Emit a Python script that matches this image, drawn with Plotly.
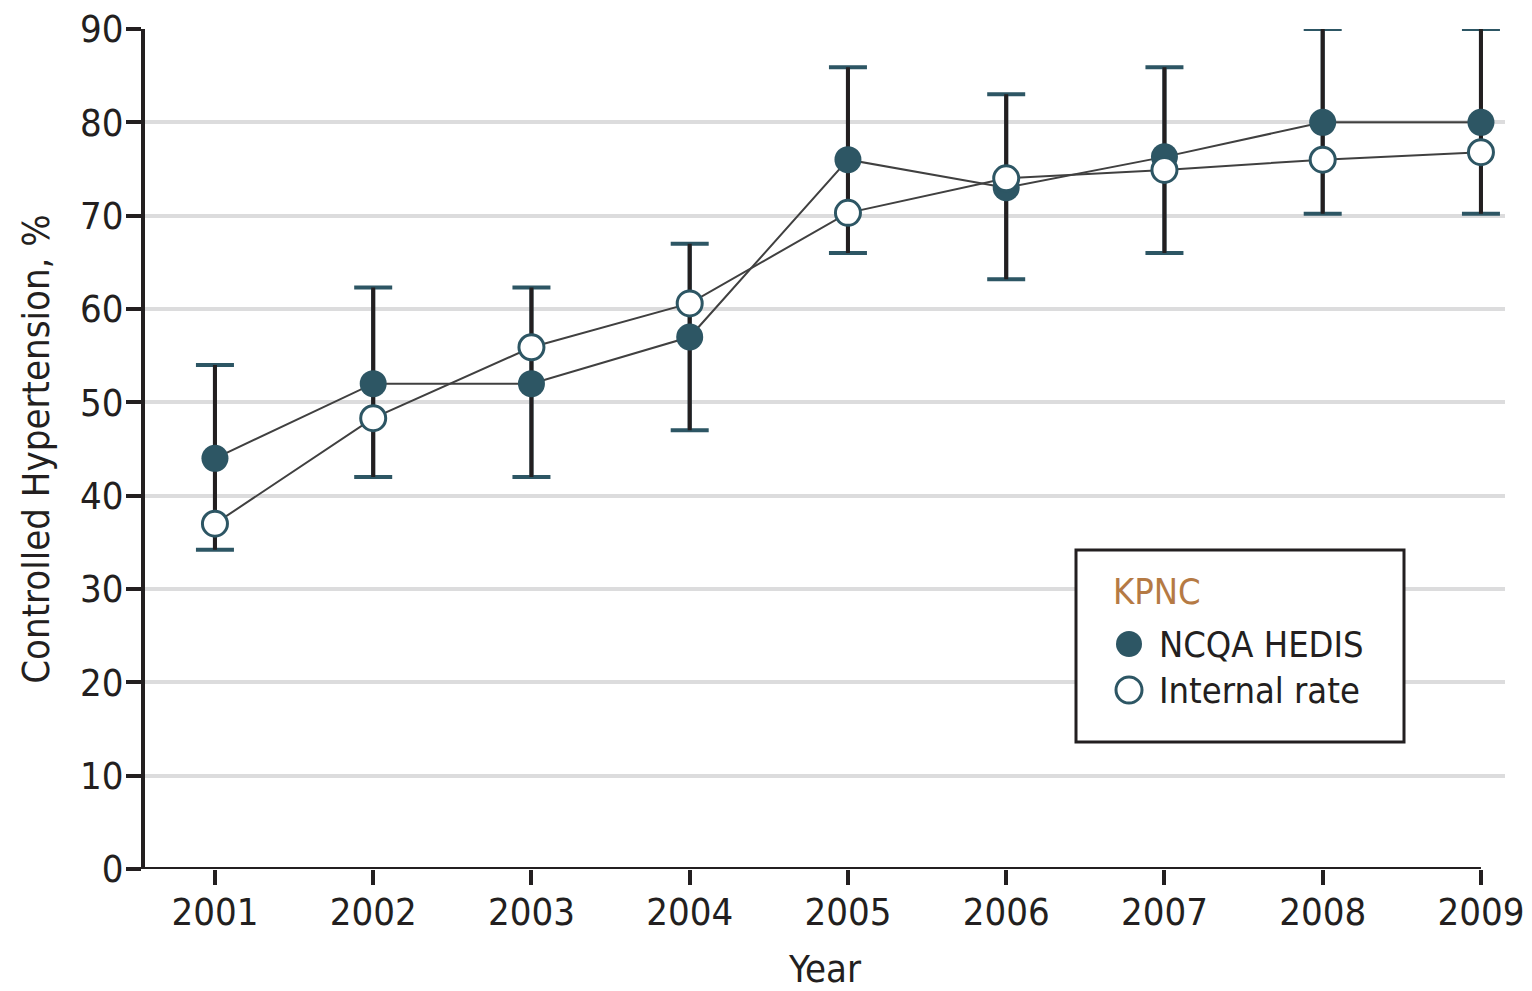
import plotly.graph_objects as go

years = [2001, 2002, 2003, 2004, 2005, 2006, 2007, 2008, 2009]
ncqa_hedis = [44, 52, 52, 57, 76, 73, 76.3, 80, 80]
internal_rate = [37, 48.3, 55.9, 60.6, 70.3, 74.0, 74.9, 76, 76.8]
ci_upper = [54, 62.3, 62.3, 67, 85.9, 83, 85.9, 90, 90]
ci_lower = [34.2, 42, 42, 47, 66, 63.2, 66, 70.2, 70.2]

y_ticks = [0, 10, 20, 30, 40, 50, 60, 70, 80, 90]
series_names = ["NCQA HEDIS", "Internal rate"]
legend_title = "KPNC"

TEAL = "#2d5664"
DARK = "#231f20"
LINE = "#404040"
GRID = "#dcdcdd"
FONT = "Liberation Sans Narrow, DejaVu Sans Condensed, Liberation Sans, sans-serif"

X_RANGE = [2000.558, 2009.152]

err_plus = [u - v for u, v in zip(ci_upper, ncqa_hedis)]
err_minus = [v - l for v, l in zip(ncqa_hedis, ci_lower)]

fig = go.Figure()

# error bars with teal caps
fig.add_trace(go.Scatter(
    x=years, y=ncqa_hedis, mode="markers",
    marker=dict(size=1, color="rgba(0,0,0,0)"),
    error_y=dict(type="data", symmetric=False, array=err_plus, arrayminus=err_minus,
                 color=TEAL, thickness=4, width=19),
    showlegend=False, hoverinfo="skip"))
# dark stems
fig.add_trace(go.Scatter(
    x=years, y=ncqa_hedis, mode="markers",
    marker=dict(size=1, color="rgba(0,0,0,0)"),
    error_y=dict(type="data", symmetric=False, array=err_plus, arrayminus=err_minus,
                 color=DARK, thickness=4, width=0),
    showlegend=False, hoverinfo="skip"))

fig.add_trace(go.Scatter(
    x=years, y=ncqa_hedis, mode="lines+markers", name=series_names[0],
    line=dict(color=LINE, width=2),
    marker=dict(symbol="circle", size=27, color=TEAL, line=dict(color=TEAL, width=0)),
    showlegend=False))
fig.add_trace(go.Scatter(
    x=years, y=internal_rate, mode="lines+markers", name=series_names[1],
    line=dict(color=LINE, width=2),
    marker=dict(symbol="circle", size=25, color="white", line=dict(color=TEAL, width=3)),
    showlegend=False))

# x-axis baseline ending at the last year
fig.add_shape(type="line", xref="x", yref="y", x0=X_RANGE[0], x1=years[-1], y0=0, y1=0,
              line=dict(color=DARK, width=4), layer="above")

# ---- legend box (drawn manually to get large symbols) ----
px0, pw, py0, ph = 145, 1360, 869, 840
def xp(px):
    return (px - px0) / pw
def yp(py):
    return (py0 - py) / ph

fig.add_shape(type="rect", xref="paper", yref="paper",
              x0=xp(1076), x1=xp(1404), y0=yp(742), y1=yp(550),
              line=dict(color=DARK, width=3), fillcolor="white", layer="above")
fig.add_annotation(xref="paper", yref="paper", x=xp(1111), y=yp(591), text=legend_title,
                   showarrow=False, xanchor="left", yanchor="middle",
                   font=dict(family=FONT, size=36, color="#b57a44"))
for i, (name, ypx) in enumerate(zip(series_names, [644, 690])):
    fig.add_shape(type="circle", xref="paper", yref="paper",
                  xsizemode="pixel", ysizemode="pixel",
                  xanchor=xp(1129), yanchor=yp(ypx),
                  x0=-13, x1=13, y0=-13, y1=13,
                  fillcolor=TEAL if i == 0 else "white",
                  line=dict(color=TEAL, width=0 if i == 0 else 3), layer="above")
    fig.add_annotation(xref="paper", yref="paper", x=xp(1157), y=yp(ypx), text=name,
                       showarrow=False, xanchor="left", yanchor="middle",
                       font=dict(family=FONT, size=36, color=DARK))

fig.update_layout(
    width=1532, height=991,
    margin=dict(l=145, r=27, t=29, b=122),
    paper_bgcolor="white", plot_bgcolor="white",
    font=dict(family=FONT, size=40, color=DARK),
    showlegend=False,
    xaxis=dict(
        range=X_RANGE, tickvals=years, ticktext=[str(y) for y in years],
        showgrid=False, zeroline=False, showline=False,
        ticks="outside", ticklen=15, tickwidth=4, tickcolor=DARK,
        tickfont=dict(family=FONT, size=38, color=DARK),
        ticklabelstandoff=-6,
        title=dict(text="Year", font=dict(family=FONT, size=38, color=DARK), standoff=34),
        automargin=False,
    ),
    yaxis=dict(
        range=[0, 90], tickvals=y_ticks,
        showgrid=True, gridcolor=GRID, gridwidth=4, zeroline=False,
        showline=True, linecolor=DARK, linewidth=4,
        ticks="outside", ticklen=15, tickwidth=4, tickcolor=DARK,
        tickfont=dict(family=FONT, size=38, color=DARK),
        ticklabelstandoff=-5,
        title=dict(text="Controlled Hypertension, %", font=dict(family=FONT, size=38, color=DARK), standoff=20),
        automargin=False,
    ),
)

fig.write_html("out.html")
